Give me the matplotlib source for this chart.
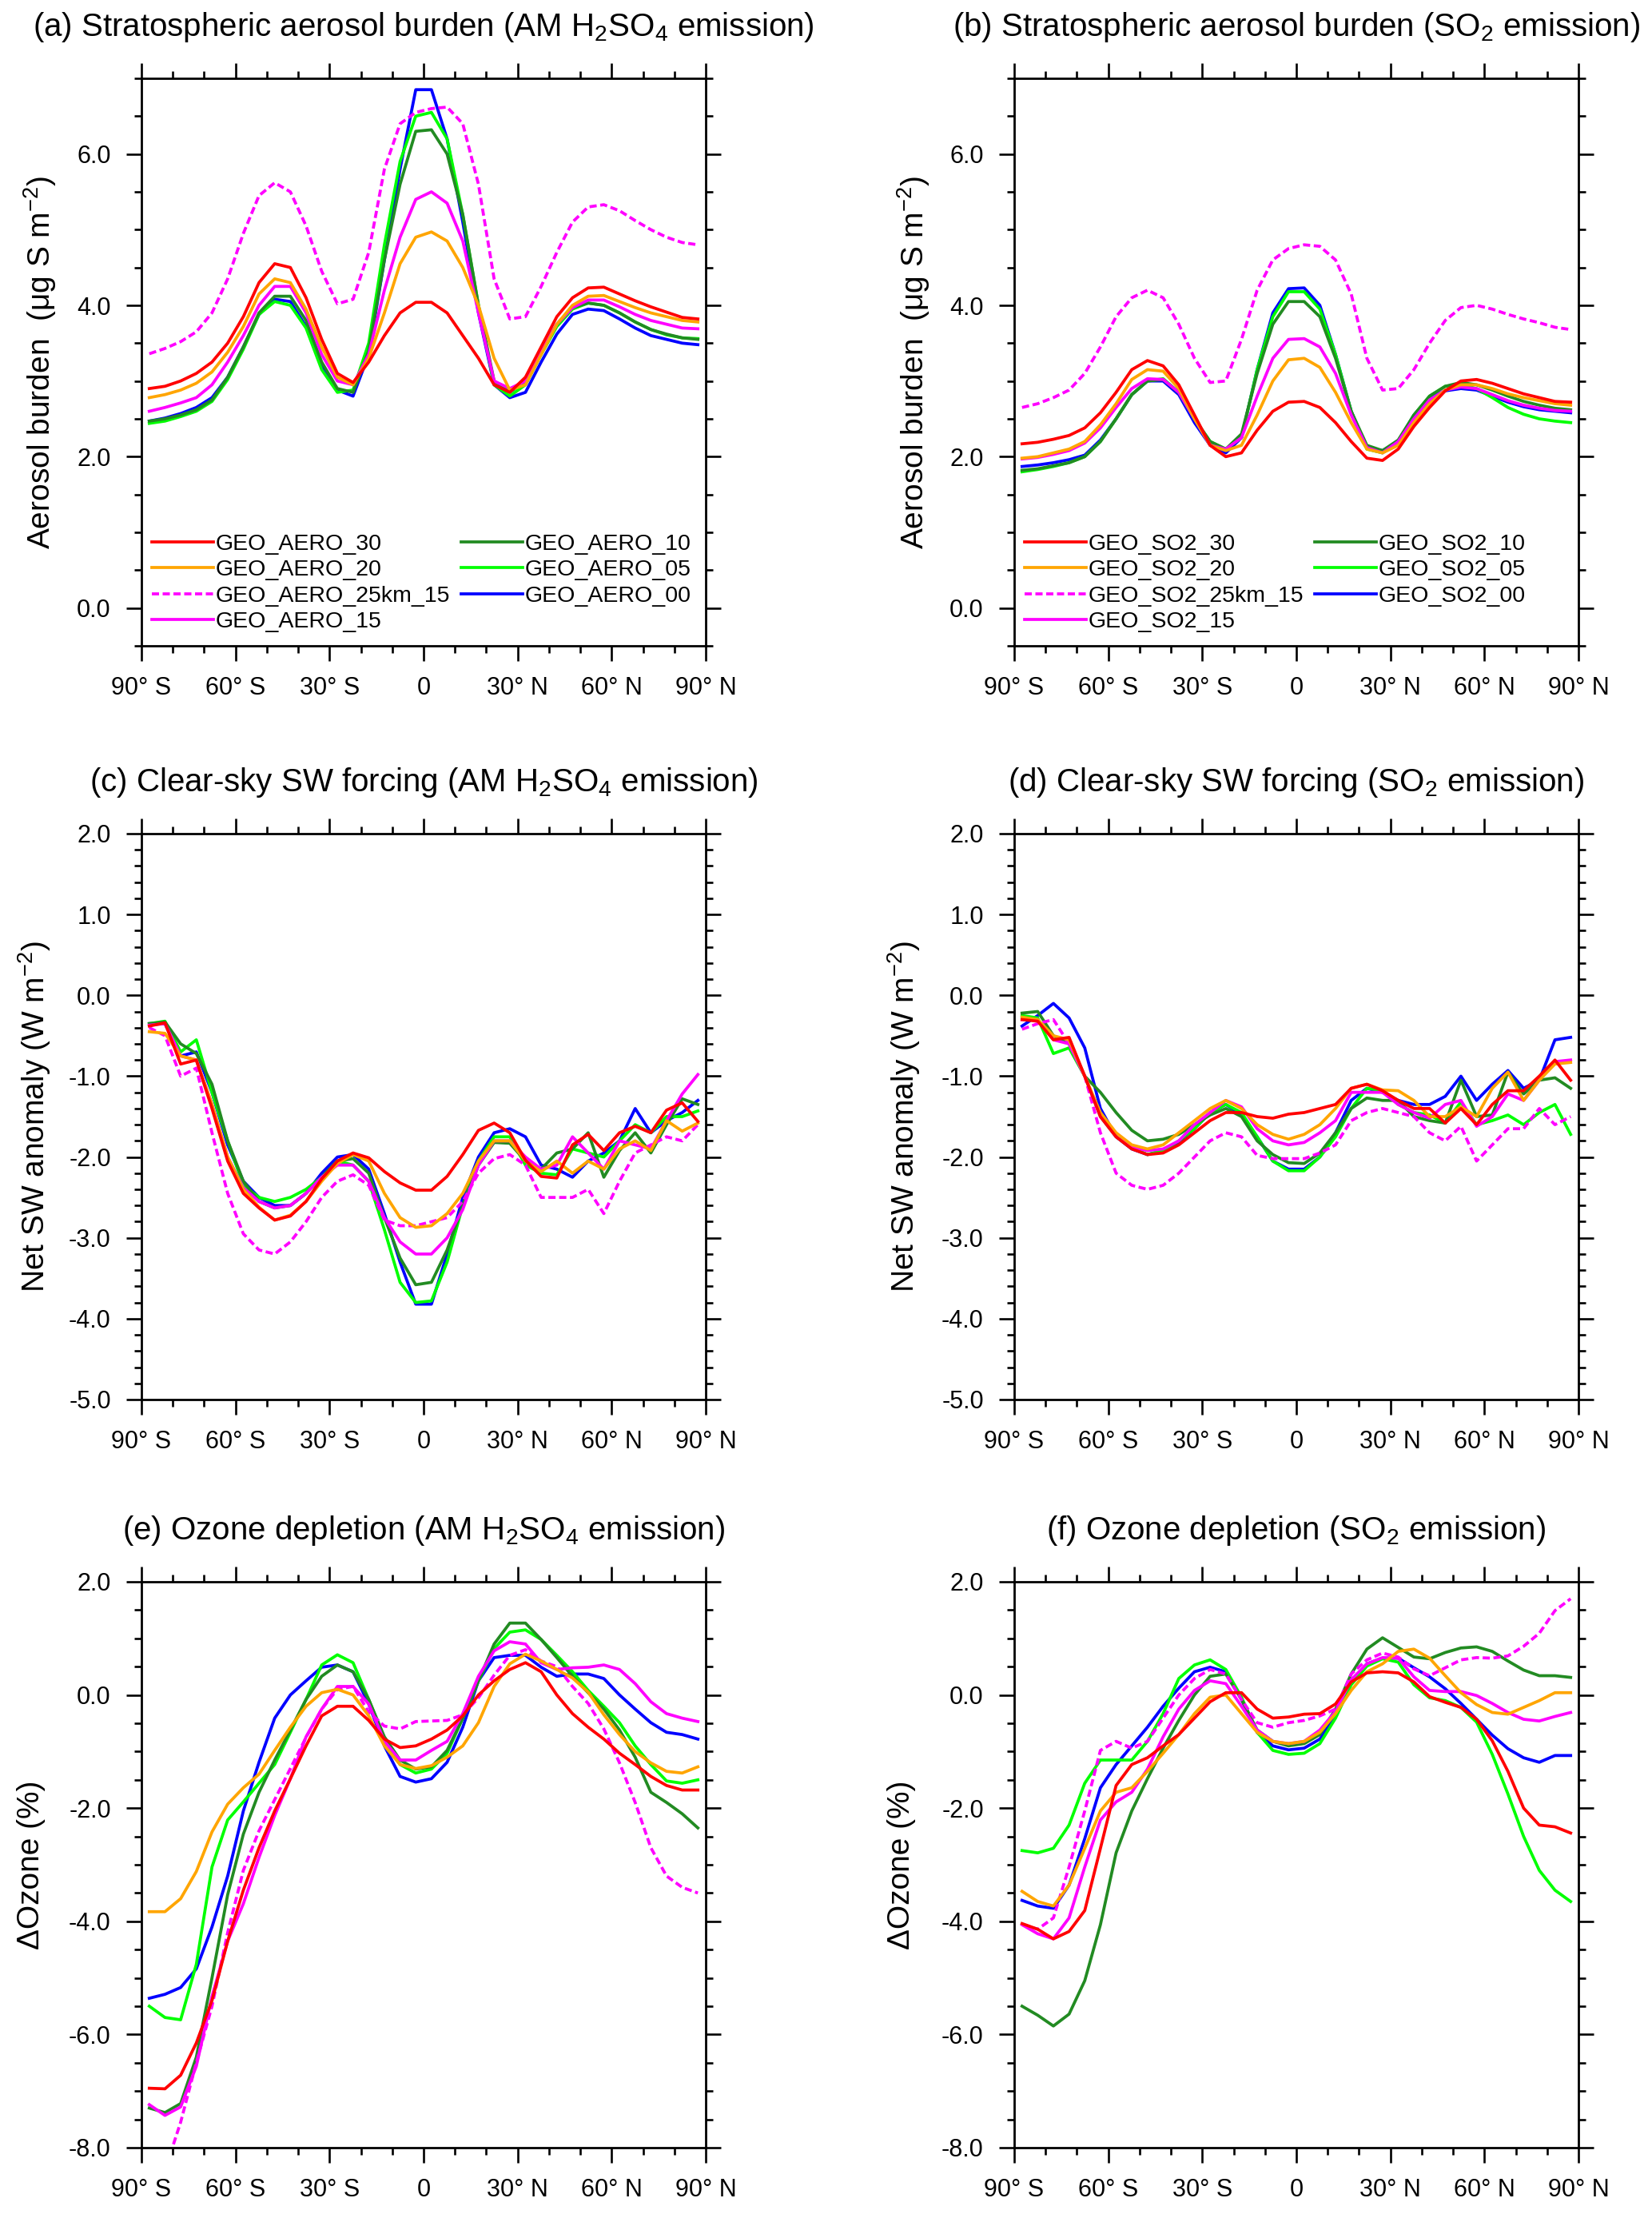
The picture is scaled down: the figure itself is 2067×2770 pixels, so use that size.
import numpy as np
import matplotlib
matplotlib.use('Agg')
import matplotlib.pyplot as plt
from matplotlib.ticker import MultipleLocator, FixedLocator, FormatStrFormatter

plt.rcParams['font.family'] = ['Liberation Sans', 'DejaVu Sans']
plt.rcParams['mathtext.fontset'] = 'custom'
plt.rcParams['mathtext.rm'] = 'Liberation Sans'
plt.rcParams['mathtext.it'] = 'Liberation Sans:italic'
plt.rcParams['mathtext.bf'] = 'Liberation Sans:bold'
plt.rcParams['axes.unicode_minus'] = False

# latitude centres (deg), 5 degree spacing
lat = np.arange(-87.5, 90, 5.0)

# (a) aerosol burden, AM H2SO4 emission (ug S m-2)
a_30 = [2.90, 2.93, 3.00, 3.10, 3.25, 3.50, 3.85, 4.30, 4.55, 4.50, 4.10, 3.55, 3.10, 2.98, 3.25, 3.60, 3.90, 4.04,
        4.04, 3.90, 3.60, 3.30, 2.95, 2.85, 3.05, 3.45, 3.85, 4.10, 4.23, 4.24, 4.15, 4.06, 3.98, 3.91, 3.84, 3.82]
a_20 = [2.78, 2.82, 2.88, 2.97, 3.12, 3.38, 3.72, 4.15, 4.35, 4.30, 3.95, 3.45, 3.05, 2.95, 3.30, 3.90, 4.55, 4.90,
        4.97, 4.85, 4.50, 4.00, 3.30, 2.88, 2.95, 3.35, 3.75, 4.00, 4.12, 4.13, 4.05, 3.97, 3.90, 3.85, 3.80, 3.78]
a_25km = [3.36, 3.43, 3.52, 3.65, 3.90, 4.35, 4.95, 5.45, 5.62, 5.50, 5.05, 4.45, 4.02, 4.08, 4.70, 5.80, 6.40, 6.55,
          6.60, 6.62, 6.40, 5.60, 4.35, 3.82, 3.85, 4.25, 4.70, 5.10, 5.30, 5.33, 5.25, 5.12, 5.00, 4.90, 4.83, 4.80]
a_15 = [2.60, 2.65, 2.71, 2.78, 2.95, 3.25, 3.60, 4.00, 4.25, 4.25, 3.90, 3.35, 3.00, 2.95, 3.35, 4.20, 4.90, 5.40,
        5.50, 5.35, 4.85, 3.90, 3.00, 2.90, 3.00, 3.40, 3.75, 3.97, 4.07, 4.07, 3.98, 3.88, 3.80, 3.75, 3.70, 3.69]
a_10 = [2.47, 2.50, 2.55, 2.62, 2.75, 3.05, 3.45, 3.90, 4.12, 4.12, 3.80, 3.25, 2.90, 2.85, 3.40, 4.60, 5.60, 6.30,
        6.32, 6.00, 5.20, 4.00, 3.00, 2.85, 3.00, 3.40, 3.75, 3.97, 4.03, 4.00, 3.90, 3.78, 3.68, 3.62, 3.57, 3.55]
a_05 = [2.44, 2.47, 2.53, 2.60, 2.73, 3.02, 3.42, 3.88, 4.05, 4.00, 3.70, 3.15, 2.85, 2.88, 3.50, 4.80, 5.90, 6.50,
        6.55, 6.20, 5.20, 4.00, 2.95, 2.80, 2.95, 3.35, 3.72, 3.95, 4.03, 4.00, 3.90, 3.78, 3.68, 3.61, 3.57, 3.56]
a_00 = [2.47, 2.51, 2.57, 2.65, 2.78, 3.05, 3.45, 3.88, 4.08, 4.05, 3.72, 3.20, 2.88, 2.80, 3.35, 4.60, 5.80, 6.85,
        6.85, 6.20, 5.10, 3.90, 2.95, 2.78, 2.85, 3.25, 3.62, 3.88, 3.95, 3.93, 3.82, 3.70, 3.60, 3.55, 3.50, 3.48]

# (b) aerosol burden, SO2 emission
b_30 = [2.17, 2.19, 2.23, 2.28, 2.38, 2.58, 2.85, 3.15, 3.27, 3.20, 2.95, 2.55, 2.15, 2.00, 2.05, 2.35, 2.60, 2.72,
        2.73, 2.65, 2.45, 2.20, 1.98, 1.95, 2.10, 2.40, 2.65, 2.87, 3.00, 3.02, 2.97, 2.90, 2.83, 2.78, 2.73, 2.72]
b_20 = [1.98, 2.00, 2.05, 2.10, 2.20, 2.42, 2.70, 3.02, 3.15, 3.13, 2.90, 2.50, 2.15, 2.08, 2.15, 2.55, 3.00, 3.28,
        3.30, 3.18, 2.85, 2.45, 2.10, 2.05, 2.15, 2.45, 2.70, 2.88, 2.95, 2.95, 2.90, 2.83, 2.78, 2.74, 2.70, 2.68]
b_25km = [2.65, 2.70, 2.78, 2.88, 3.10, 3.45, 3.85, 4.10, 4.20, 4.10, 3.75, 3.30, 2.98, 3.00, 3.55, 4.20, 4.60, 4.75,
          4.80, 4.78, 4.60, 4.15, 3.30, 2.88, 2.90, 3.15, 3.50, 3.80, 3.97, 4.00, 3.95, 3.88, 3.82, 3.77, 3.71, 3.68]
b_15 = [1.97, 1.99, 2.03, 2.08, 2.18, 2.38, 2.65, 2.90, 3.03, 3.02, 2.85, 2.50, 2.15, 2.10, 2.25, 2.80, 3.30, 3.55,
        3.56, 3.45, 3.10, 2.55, 2.12, 2.05, 2.20, 2.50, 2.75, 2.88, 2.92, 2.90, 2.82, 2.74, 2.68, 2.64, 2.61, 2.60]
b_10 = [1.82, 1.84, 1.88, 1.92, 2.00, 2.20, 2.50, 2.82, 3.00, 3.02, 2.85, 2.50, 2.20, 2.10, 2.30, 3.10, 3.75, 4.05,
        4.05, 3.85, 3.30, 2.60, 2.15, 2.08, 2.22, 2.55, 2.80, 2.93, 2.98, 2.95, 2.88, 2.80, 2.73, 2.68, 2.64, 2.62]
b_05 = [1.80, 1.83, 1.87, 1.92, 2.00, 2.20, 2.50, 2.82, 3.00, 3.03, 2.85, 2.50, 2.20, 2.10, 2.25, 3.15, 3.85, 4.18,
        4.18, 3.95, 3.35, 2.60, 2.10, 2.05, 2.20, 2.55, 2.80, 2.93, 2.95, 2.90, 2.78, 2.65, 2.56, 2.50, 2.47, 2.45]
b_00 = [1.87, 1.89, 1.92, 1.96, 2.02, 2.22, 2.50, 2.82, 3.00, 3.00, 2.82, 2.45, 2.15, 2.05, 2.25, 3.15, 3.90, 4.22,
        4.23, 4.00, 3.35, 2.60, 2.12, 2.08, 2.20, 2.55, 2.78, 2.87, 2.90, 2.88, 2.80, 2.72, 2.66, 2.62, 2.60, 2.58]

# (c) clear-sky net SW anomaly, AM H2SO4 emission (W m-2)
c_30 = [-0.38, -0.34, -0.85, -0.80, -1.40, -2.05, -2.45, -2.63, -2.78, -2.73, -2.55, -2.27, -2.05, -1.95, -2.01, -2.18,
        -2.32, -2.41, -2.41, -2.24, -1.97, -1.67, -1.58, -1.70, -2.04, -2.24, -2.26, -1.85, -1.72, -1.92, -1.70, -1.62,
        -1.70, -1.42, -1.33, -1.56]
c_20 = [-0.45, -0.47, -0.75, -0.80, -1.35, -2.00, -2.40, -2.62, -2.78, -2.72, -2.55, -2.30, -2.08, -1.97, -2.05, -2.45,
        -2.75, -2.87, -2.85, -2.70, -2.45, -2.05, -1.80, -1.80, -2.05, -2.18, -2.05, -2.20, -2.05, -2.15, -1.90, -1.80,
        -1.92, -1.55, -1.68, -1.58]
c_25km = [-0.40, -0.50, -1.00, -0.90, -1.70, -2.45, -2.95, -3.15, -3.20, -3.05, -2.80, -2.50, -2.30, -2.22, -2.35, -2.78,
          -2.85, -2.85, -2.80, -2.75, -2.55, -2.20, -2.02, -1.97, -2.10, -2.50, -2.50, -2.50, -2.40, -2.70, -2.30, -1.95,
          -1.85, -1.75, -1.80, -1.60]
c_15 = [-0.37, -0.35, -0.75, -0.80, -1.35, -2.00, -2.38, -2.55, -2.63, -2.60, -2.45, -2.25, -2.10, -2.10, -2.30, -2.75,
        -3.05, -3.20, -3.20, -3.00, -2.65, -2.10, -1.80, -1.80, -2.00, -2.15, -2.10, -1.75, -1.95, -2.15, -1.80, -1.85,
        -1.90, -1.55, -1.22, -0.98]
c_10 = [-0.35, -0.33, -0.60, -0.72, -1.10, -1.80, -2.30, -2.55, -2.63, -2.60, -2.45, -2.25, -2.05, -2.02, -2.20, -2.75,
        -3.25, -3.58, -3.55, -3.15, -2.60, -2.10, -1.82, -1.83, -2.05, -2.15, -1.95, -1.90, -1.70, -2.25, -1.92, -1.70,
        -1.95, -1.60, -1.28, -1.35]
c_05 = [-0.35, -0.32, -0.70, -0.55, -1.20, -1.80, -2.35, -2.50, -2.55, -2.50, -2.40, -2.25, -2.05, -2.10, -2.30, -2.90,
        -3.55, -3.80, -3.78, -3.30, -2.60, -2.05, -1.75, -1.75, -2.10, -2.20, -2.22, -1.90, -1.95, -2.00, -1.80, -1.60,
        -1.70, -1.50, -1.50, -1.43]
c_00 = [-0.35, -0.35, -0.75, -0.70, -1.20, -1.85, -2.30, -2.50, -2.60, -2.60, -2.45, -2.20, -2.00, -1.97, -2.15, -2.70,
        -3.30, -3.82, -3.82, -3.20, -2.50, -2.00, -1.70, -1.65, -1.75, -2.10, -2.15, -2.25, -2.05, -1.95, -1.80, -1.40,
        -1.70, -1.55, -1.45, -1.30]

# (d) clear-sky net SW anomaly, SO2 emission
d_30 = [-0.30, -0.32, -0.55, -0.52, -1.00, -1.50, -1.75, -1.90, -1.97, -1.95, -1.85, -1.70, -1.55, -1.45, -1.45, -1.50,
        -1.52, -1.47, -1.45, -1.40, -1.35, -1.15, -1.10, -1.18, -1.30, -1.40, -1.40, -1.58, -1.40, -1.60, -1.35, -1.18,
        -1.18, -1.00, -0.80, -1.05]
d_20 = [-0.27, -0.30, -0.50, -0.55, -1.00, -1.45, -1.70, -1.85, -1.90, -1.85, -1.70, -1.55, -1.40, -1.30, -1.40, -1.60,
        -1.72, -1.78, -1.72, -1.60, -1.40, -1.15, -1.10, -1.17, -1.18, -1.30, -1.50, -1.50, -1.38, -1.50, -1.15, -0.95,
        -1.30, -1.05, -0.85, -0.83]
d_25km = [-0.42, -0.35, -0.30, -0.60, -1.00, -1.70, -2.20, -2.35, -2.40, -2.35, -2.20, -2.00, -1.80, -1.70, -1.75, -1.98,
          -2.02, -2.02, -2.02, -1.95, -1.85, -1.55, -1.45, -1.40, -1.45, -1.50, -1.70, -1.80, -1.62, -2.05, -1.85, -1.65,
          -1.65, -1.40, -1.60, -1.50]
d_15 = [-0.30, -0.30, -0.55, -0.60, -1.00, -1.50, -1.75, -1.88, -1.92, -1.90, -1.80, -1.60, -1.45, -1.30, -1.38, -1.65,
        -1.80, -1.85, -1.82, -1.70, -1.55, -1.20, -1.20, -1.20, -1.35, -1.45, -1.52, -1.35, -1.30, -1.62, -1.50, -1.22,
        -1.30, -1.05, -0.82, -0.80]
d_10 = [-0.22, -0.20, -0.50, -0.60, -1.00, -1.20, -1.45, -1.67, -1.80, -1.78, -1.72, -1.60, -1.48, -1.40, -1.50, -1.80,
        -1.97, -2.07, -2.08, -1.95, -1.70, -1.40, -1.27, -1.30, -1.30, -1.50, -1.55, -1.58, -1.05, -1.50, -1.48, -0.95,
        -1.22, -1.05, -1.02, -1.15]
d_05 = [-0.25, -0.28, -0.72, -0.65, -1.00, -1.50, -1.75, -1.88, -1.97, -1.92, -1.80, -1.65, -1.45, -1.35, -1.45, -1.75,
        -2.05, -2.17, -2.17, -2.00, -1.75, -1.40, -1.15, -1.18, -1.35, -1.45, -1.48, -1.58, -1.32, -1.60, -1.55, -1.48,
        -1.60, -1.45, -1.35, -1.72]
d_00 = [-0.38, -0.25, -0.10, -0.28, -0.65, -1.40, -1.75, -1.90, -1.97, -1.92, -1.82, -1.65, -1.45, -1.35, -1.48, -1.75,
        -2.05, -2.15, -2.15, -2.00, -1.70, -1.30, -1.15, -1.20, -1.30, -1.35, -1.35, -1.25, -1.00, -1.30, -1.10, -0.93,
        -1.15, -1.05, -0.55, -0.52]

# (e) ozone change (%), AM H2SO4 emission
e_30 = [-6.95, -6.96, -6.72, -6.15, -5.40, -4.35, -3.45, -2.70, -2.05, -1.48, -0.90, -0.37, -0.20, -0.20, -0.45, -0.78,
        -0.93, -0.90, -0.78, -0.62, -0.37, 0.00, 0.25, 0.45, 0.57, 0.41, 0.00, -0.33, -0.57, -0.78, -1.03, -1.23,
        -1.44, -1.60, -1.68, -1.68]
e_20 = [-3.83, -3.83, -3.60, -3.12, -2.42, -1.93, -1.64, -1.40, -0.98, -0.57, -0.20, 0.04, 0.10, 0.00, -0.37, -0.90,
        -1.23, -1.30, -1.25, -1.10, -0.90, -0.49, 0.15, 0.55, 0.72, 0.60, 0.45, 0.30, 0.05, -0.35, -0.70, -1.00,
        -1.20, -1.35, -1.38, -1.27]
e_25km = [-9.00, -8.40, -7.55, -6.50, -5.50, -4.20, -3.10, -2.40, -1.85, -1.30, -0.75, -0.25, 0.10, 0.15, -0.30, -0.55,
          -0.60, -0.47, -0.46, -0.45, -0.35, -0.05, 0.35, 0.70, 0.80, 0.60, 0.50, 0.15, -0.15, -0.60, -1.20, -1.90,
          -2.70, -3.20, -3.40, -3.50]
e_15 = [-7.24, -7.43, -7.28, -6.56, -5.33, -4.35, -3.69, -2.87, -2.13, -1.48, -0.74, -0.25, 0.15, 0.15, -0.16, -0.82,
        -1.15, -1.15, -0.98, -0.82, -0.33, 0.33, 0.78, 0.94, 0.90, 0.57, 0.45, 0.48, 0.49, 0.53, 0.45, 0.20,
        -0.12, -0.33, -0.41, -0.47]
e_10 = [-7.30, -7.38, -7.22, -6.40, -5.00, -3.53, -2.46, -1.72, -1.15, -0.62, -0.08, 0.33, 0.53, 0.41, -0.08, -0.74,
        -1.15, -1.31, -1.27, -0.98, -0.41, 0.25, 0.90, 1.27, 1.27, 0.98, 0.66, 0.33, 0.04, -0.25, -0.62, -1.10,
        -1.72, -1.90, -2.10, -2.35]
e_05 = [-5.50, -5.70, -5.74, -4.76, -3.04, -2.21, -1.89, -1.56, -1.23, -0.66, -0.08, 0.53, 0.71, 0.57, -0.08, -0.78,
        -1.23, -1.38, -1.31, -1.03, -0.41, 0.25, 0.82, 1.11, 1.15, 0.98, 0.70, 0.41, 0.08, -0.20, -0.49, -0.90,
        -1.23, -1.52, -1.56, -1.50]
e_00 = [-5.36, -5.29, -5.17, -4.84, -4.10, -3.20, -2.05, -1.19, -0.41, 0.00, 0.25, 0.49, 0.53, 0.41, -0.16, -0.90,
        -1.44, -1.54, -1.48, -1.19, -0.57, 0.25, 0.66, 0.70, 0.70, 0.49, 0.33, 0.37, 0.37, 0.29, 0.00, -0.25,
        -0.49, -0.66, -0.70, -0.78]

# (f) ozone change (%), SO2 emission
f_30 = [-4.04, -4.14, -4.31, -4.18, -3.81, -2.71, -1.60, -1.23, -1.11, -0.90, -0.70, -0.41, -0.12, 0.04, 0.04, -0.25,
        -0.41, -0.39, -0.34, -0.33, -0.16, 0.23, 0.39, 0.41, 0.39, 0.23, -0.03, -0.13, -0.22, -0.43, -0.81, -1.35,
        -2.00, -2.30, -2.33, -2.44]
f_20 = [-3.47, -3.65, -3.73, -3.36, -2.71, -2.05, -1.72, -1.64, -1.35, -1.03, -0.70, -0.33, -0.04, 0.00, -0.33, -0.66,
        -0.82, -0.86, -0.82, -0.66, -0.33, 0.08, 0.41, 0.55, 0.77, 0.81, 0.65, 0.34, 0.04, -0.17, -0.31, -0.34,
        -0.22, -0.10, 0.04, 0.04]
f_25km = [-4.06, -4.14, -3.94, -3.04, -2.05, -0.98, -0.82, -0.94, -0.82, -0.41, 0.00, 0.29, 0.45, 0.37, -0.08, -0.49,
          -0.57, -0.49, -0.45, -0.37, -0.25, 0.37, 0.62, 0.74, 0.67, 0.46, 0.34, 0.48, 0.62, 0.66, 0.65, 0.69,
          0.86, 1.09, 1.49, 1.70]
f_15 = [-4.06, -4.22, -4.31, -3.94, -3.04, -2.21, -1.89, -1.72, -1.31, -0.74, -0.25, 0.08, 0.25, 0.20, -0.20, -0.62,
        -0.82, -0.86, -0.82, -0.62, -0.29, 0.27, 0.55, 0.66, 0.65, 0.32, 0.08, 0.06, 0.06, -0.01, -0.15, -0.31,
        -0.43, -0.46, -0.38, -0.31]
f_10 = [-5.50, -5.66, -5.85, -5.64, -5.05, -4.06, -2.79, -2.05, -1.48, -0.94, -0.45, 0.00, 0.33, 0.37, -0.08, -0.62,
        -0.82, -0.90, -0.86, -0.70, -0.25, 0.37, 0.81, 1.01, 0.84, 0.67, 0.64, 0.75, 0.83, 0.85, 0.77, 0.60,
        0.44, 0.34, 0.34, 0.31]
f_05 = [-2.75, -2.79, -2.71, -2.30, -1.56, -1.15, -1.15, -1.15, -0.82, -0.33, 0.29, 0.53, 0.62, 0.45, -0.04, -0.66,
        -0.98, -1.05, -1.03, -0.86, -0.41, 0.18, 0.51, 0.64, 0.58, 0.18, -0.05, -0.10, -0.22, -0.48, -1.05, -1.75,
        -2.50, -3.10, -3.45, -3.65]
f_00 = [-3.63, -3.73, -3.77, -3.36, -2.54, -1.64, -1.23, -0.90, -0.57, -0.20, 0.12, 0.41, 0.49, 0.41, -0.08, -0.66,
        -0.90, -0.97, -0.94, -0.78, -0.37, 0.23, 0.55, 0.65, 0.65, 0.48, 0.32, 0.11, -0.15, -0.43, -0.71, -0.95,
        -1.11, -1.19, -1.07, -1.07]

# experiment keys, legend order
keys = ['30', '20', '25km_15', '15', '10', '05', '00']
colors = ['#ff0000', '#ffa500', '#ff00ff', '#ff00ff', '#228b22', '#00ff00', '#0000ff']

panels = [
    ('(a) Stratospheric aerosol burden (AM H$_2$SO$_4$ emission)', [a_30, a_20, a_25km, a_15, a_10, a_05, a_00],
     'Aerosol burden  (\u03bcg S m$^{-2}$)', (-0.5, 7.0), 2.0, 0.5, 'GEO_AERO_'),
    ('(b) Stratospheric aerosol burden (SO$_2$ emission)', [b_30, b_20, b_25km, b_15, b_10, b_05, b_00],
     'Aerosol burden  (\u03bcg S m$^{-2}$)', (-0.5, 7.0), 2.0, 0.5, 'GEO_SO2_'),
    ('(c) Clear-sky SW forcing (AM H$_2$SO$_4$ emission)', [c_30, c_20, c_25km, c_15, c_10, c_05, c_00],
     'Net SW anomaly (W m$^{-2}$)', (-5.0, 2.0), 1.0, 0.2, None),
    ('(d) Clear-sky SW forcing (SO$_2$ emission)', [d_30, d_20, d_25km, d_15, d_10, d_05, d_00],
     'Net SW anomaly (W m$^{-2}$)', (-5.0, 2.0), 1.0, 0.2, None),
    ('(e) Ozone depletion (AM H$_2$SO$_4$ emission)', [e_30, e_20, e_25km, e_15, e_10, e_05, e_00],
     '\u0394Ozone (%)', (-8.0, 2.0), 2.0, 0.5, None),
    ('(f) Ozone depletion (SO$_2$ emission)', [f_30, f_20, f_25km, f_15, f_10, f_05, f_00],
     '\u0394Ozone (%)', (-8.0, 2.0), 2.0, 0.5, None),
]

# axes boxes in figure fraction
W, H = 2067.0, 2770.0
col_left = [177 / W, 1269 / W]
ax_w = 706 / W
row_bottom = [1 - 808 / H, 1 - 1751 / H, 1 - 2687 / H]
row_h = [710 / H, 708 / H, 708 / H]
ylab_x = [-0.18, -0.178, -0.19, -0.195, -0.195, -0.2]

fig = plt.figure(figsize=(20.67, 27.70), dpi=100)

for i, (title, series, ylabel, ylim, major, minor, prefix) in enumerate(panels):
    r, c = divmod(i, 2)
    ax = fig.add_axes([col_left[c], row_bottom[r], ax_w, row_h[r]])

    handles = {}
    # draw from the last legend entry so red ends on top
    for k in range(len(keys) - 1, -1, -1):
        ls = '--' if keys[k] == '25km_15' else '-'
        ln, = ax.plot(lat, series[k], color=colors[k], lw=2.7, ls=ls)
        if ls == '--':
            ln.set_dashes((2.4, 1.2))
        handles[k] = ln

    ax.set_xlim(-90, 90)
    ax.set_ylim(*ylim)
    ax.xaxis.set_major_locator(FixedLocator([-90, -60, -30, 0, 30, 60, 90]))
    ax.xaxis.set_minor_locator(MultipleLocator(10))
    ax.set_xticklabels(['90\u00b0 S', '60\u00b0 S', '30\u00b0 S', '0', '30\u00b0 N', '60\u00b0 N', '90\u00b0 N'])
    ax.yaxis.set_major_locator(MultipleLocator(major))
    ax.yaxis.set_minor_locator(MultipleLocator(minor))
    ax.yaxis.set_major_formatter(FormatStrFormatter('%.1f'))

    ax.tick_params(which='both', direction='out', top=True, right=True, width=1.9, labelsize=22, pad=14)
    ax.tick_params(which='major', length=13.5)
    ax.tick_params(which='minor', length=6.5)
    for s in ax.spines.values():
        s.set_linewidth(2.0)

    ax.set_ylabel(ylabel, fontsize=28, va='center')
    ax.yaxis.set_label_coords(ylab_x[i], 0.5)
    ax.text(0.5, 1 + 64 / 708, title, transform=ax.transAxes, ha='center', va='center', fontsize=29)

    if prefix is not None:
        ax.legend([handles[k] for k in range(len(keys))], [prefix + k for k in keys],
                  ncol=2, loc='upper left', bbox_to_anchor=(0.018, 0.197), frameon=False,
                  fontsize=20.5, handlelength=2.7, handletextpad=0.1, labelspacing=0.22,
                  columnspacing=0.5, borderpad=0, borderaxespad=0)

fig.savefig('out.png', dpi=100)
